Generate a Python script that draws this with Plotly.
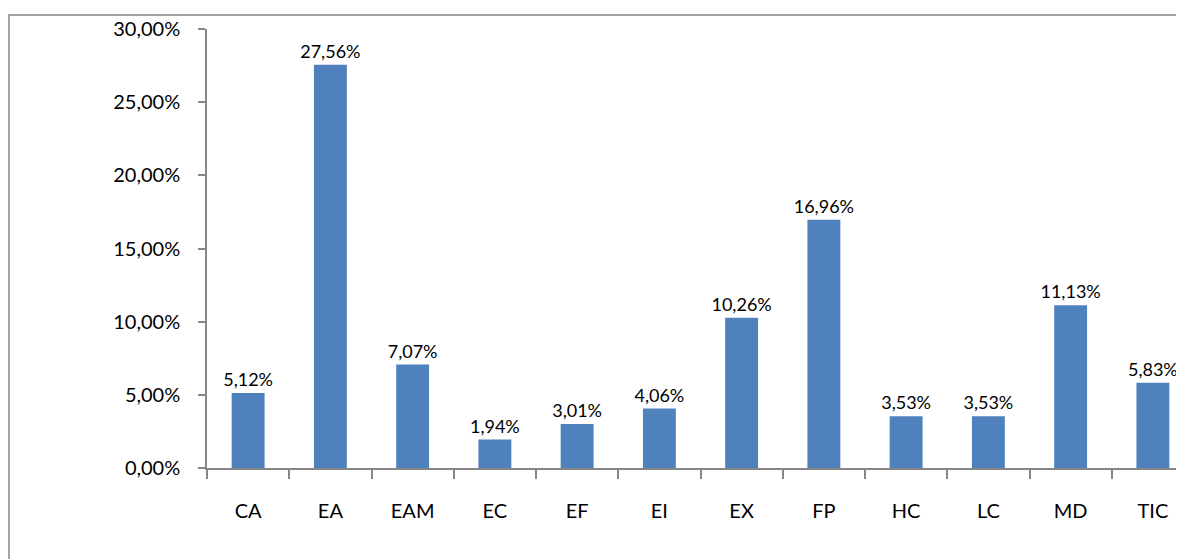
import plotly.graph_objects as go

categories = ["CA", "EA", "EAM", "EC", "EF", "EI", "EX", "FP", "HC", "LC", "MD", "TIC"]
values = [0.0512, 0.2756, 0.0707, 0.0194, 0.0301, 0.0406, 0.1026, 0.1696, 0.0353, 0.0353, 0.1113, 0.0583]
y_ticks = [0, 0.05, 0.10, 0.15, 0.20, 0.25, 0.30]

# page has an 8px body margin; figure coordinates = page coordinates - 8
OFF = 8
W, H = 1184 - OFF, 559 - OFF
L, T = 207 - OFF, 29 - OFF
B = H - (468 - OFF)
plot_w = W - L
plot_h = H - T - B
CAT_W = 82.25

FONT = "Lato, 'Open Sans', sans-serif"
AXIS_COLOR = "#868686"

fig = go.Figure(
    go.Bar(
        x=categories,
        y=values,
        width=0.4,
        marker=dict(color="#4F81BD", line=dict(width=0)),
        texttemplate="%{y:.2%}",
        textposition="outside",
        constraintext="none",
        textfont=dict(family=FONT, size=18, color="black"),
        cliponaxis=False,
        hoverinfo="skip",
    )
)

def px_to_paper_x(px):
    return (px - OFF - L) / plot_w

def px_to_paper_y(py):
    return (H - B - (py - OFF)) / plot_h

# outer chart border (continues beyond the visible window on right and bottom)
fig.add_shape(
    type="rect", xref="paper", yref="paper",
    x0=px_to_paper_x(9), x1=px_to_paper_x(1184 + 40),
    y0=px_to_paper_y(559 + 40), y1=px_to_paper_y(15),
    line=dict(color=AXIS_COLOR, width=1.5), fillcolor="rgba(0,0,0,0)", layer="below",
)

fig.update_layout(
    width=W, height=H,
    margin=dict(l=L, r=0, t=T, b=B, pad=0),
    paper_bgcolor="white", plot_bgcolor="white",
    separators=",.",
    showlegend=False,
    xaxis=dict(
        type="category",
        range=[-0.5, -0.5 + plot_w / CAT_W],
        showline=True, linecolor=AXIS_COLOR, linewidth=1.5,
        ticks="outside", tickson="boundaries", ticklen=9, tickcolor=AXIS_COLOR, tickwidth=1.5,
        ticklabelstandoff=24,
        tickfont=dict(family=FONT, size=20, color="black"),
        showgrid=False, zeroline=False, fixedrange=True,
    ),
    yaxis=dict(
        range=[0, 0.30],
        tickvals=y_ticks, tickformat=".2%",
        showline=True, linecolor=AXIS_COLOR, linewidth=1.5,
        ticks="outside", ticklen=7, tickcolor=AXIS_COLOR, tickwidth=1.5,
        ticklabelstandoff=14,
        tickfont=dict(family=FONT, size=20, color="black"),
        showgrid=False, zeroline=False, fixedrange=True,
    ),
)

fig.write_html("out.html", config={"displayModeBar": False})
